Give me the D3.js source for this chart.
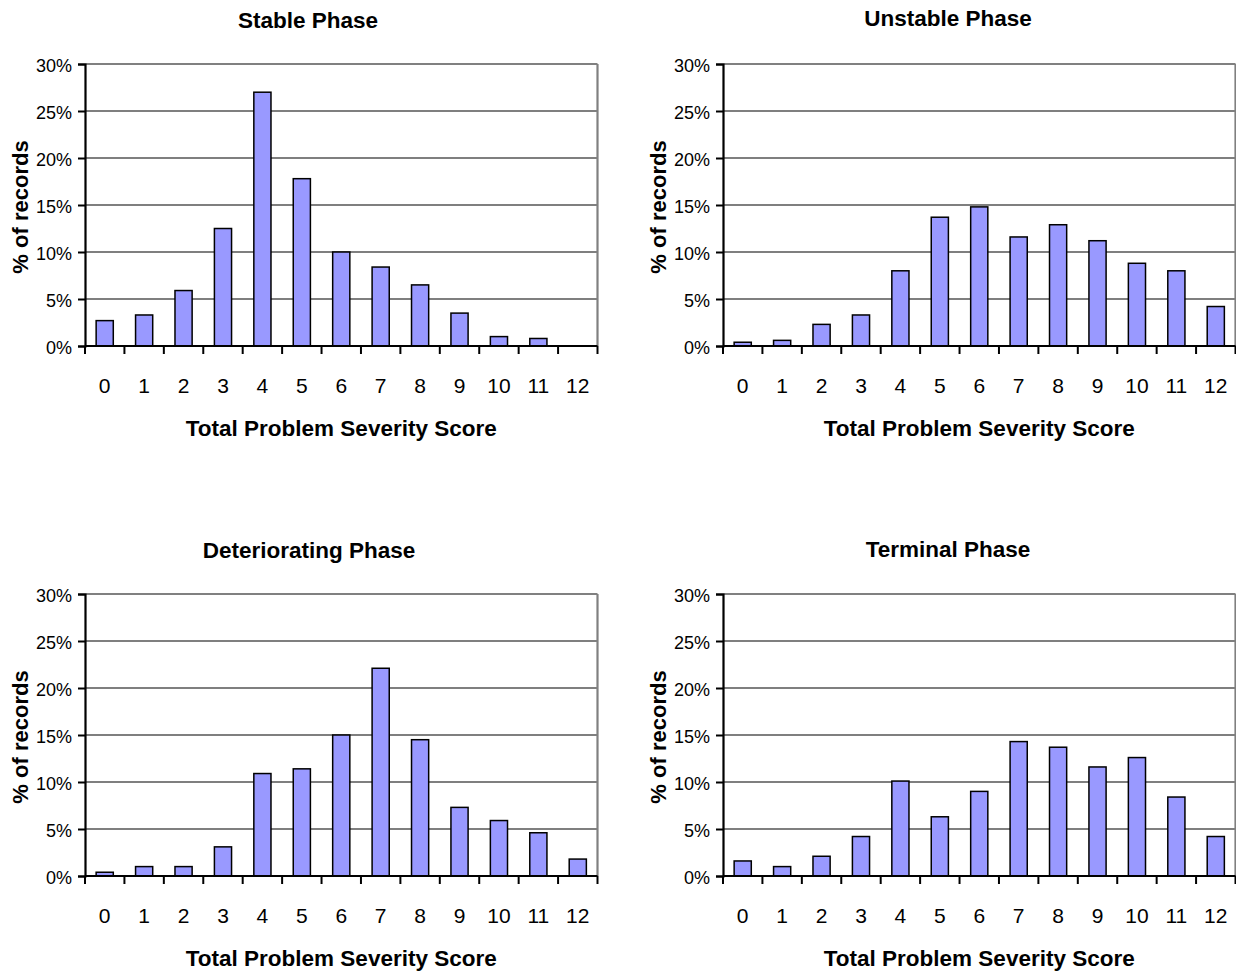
<!DOCTYPE html>
<html>
<head>
<meta charset="utf-8">
<script src="https://cdn.jsdelivr.net/npm/d3@7/dist/d3.min.js"></script>
<style>
  html, body { margin: 0; padding: 0; background: #ffffff; }
  svg { display: block; font-family: "Liberation Sans", Arial, Helvetica, sans-serif; }
</style>
</head>
<body>
<svg id="chart" width="1236" height="972"></svg>
<script>
// Severity score categories (x axis)
const scores = ["0", "1", "2", "3", "4", "5", "6", "7", "8", "9", "10", "11", "12"];

// Percent of records per score, one array per phase
const stableValues        = [2.7, 3.3, 5.9, 12.5, 27.0, 17.8, 10.0, 8.4, 6.5, 3.5, 1.0, 0.8, 0];
const unstableValues      = [0.4, 0.6, 2.3, 3.3, 8.0, 13.7, 14.8, 11.6, 12.9, 11.2, 8.8, 8.0, 4.2];
const deterioratingValues = [0.4, 1.0, 1.0, 3.1, 10.9, 11.4, 15.0, 22.1, 14.5, 7.3, 5.9, 4.6, 1.8];
const terminalValues      = [1.6, 1.0, 2.1, 4.2, 10.1, 6.3, 9.0, 14.3, 13.7, 11.6, 12.6, 8.4, 4.2];

// Panel titles and axis labels
const phaseTitles = ["Stable Phase", "Unstable Phase", "Deteriorating Phase", "Terminal Phase"];
const yTickValues = [0, 5, 10, 15, 20, 25, 30];
const xAxisTitle = "Total Problem Severity Score";
const yAxisTitle = "% of records";

const seriesList = [stableValues, unstableValues, deterioratingValues, terminalValues];

// Panel placement
const plotW = 512.5, plotH = 282;
const panels = [
  { left: 85,  top: 64,  titleX: 308, titleY: 28,  yLabelX: 20 },
  { left: 723, top: 64,  titleX: 948, titleY: 26,  yLabelX: 658 },
  { left: 85,  top: 594, titleX: 309, titleY: 558, yLabelX: 20 },
  { left: 723, top: 594, titleX: 948, titleY: 557, yLabelX: 658 }
];

const svg = d3.select("#chart");

panels.forEach((p, i) => {
  const values = seriesList[i];
  const g = svg.append("g").attr("transform", `translate(${p.left},${p.top})`);

  const x = d3.scaleBand().domain(scores).range([0, plotW]).paddingInner(0.565).paddingOuter(0.2825);
  const xCat = d3.scaleBand().domain(scores).range([0, plotW]);
  const y = d3.scaleLinear().domain([0, 30]).range([plotH, 0]);

  // Horizontal gridlines
  g.append("g")
    .selectAll("line")
    .data(yTickValues.filter(v => v > 0 && v < 30))
    .join("line")
    .attr("x1", 0).attr("x2", plotW)
    .attr("y1", d => y(d)).attr("y2", d => y(d))
    .attr("stroke", "#000").attr("stroke-width", 1.2);

  // Top and right frame
  g.append("line").attr("x1", 0).attr("x2", plotW).attr("y1", y(30)).attr("y2", y(30))
    .attr("stroke", "#808080").attr("stroke-width", 2.2);
  g.append("line").attr("x1", plotW).attr("x2", plotW).attr("y1", y(30)).attr("y2", plotH)
    .attr("stroke", "#808080").attr("stroke-width", 2.2);

  // Bars
  g.append("g")
    .selectAll("rect")
    .data(scores.map((s, k) => ({ s, v: values[k] })).filter(d => d.v > 0))
    .join("rect")
    .attr("x", d => x(d.s))
    .attr("width", x.bandwidth())
    .attr("y", d => y(d.v))
    .attr("height", d => plotH - y(d.v))
    .attr("fill", "#9999ff")
    .attr("stroke", "#000")
    .attr("stroke-width", 1.5);

  // Y axis
  const yAxis = g.append("g")
    .call(d3.axisLeft(y).tickValues(yTickValues).tickFormat(d => d + "%").tickSize(7).tickPadding(6));
  yAxis.select(".domain").attr("stroke", "#000").attr("stroke-width", 2.2);
  yAxis.selectAll(".tick line").attr("stroke", "#000").attr("stroke-width", 2);
  yAxis.selectAll(".tick text")
    .attr("font-size", 18).attr("fill", "#000")
    .attr("font-family", "'Liberation Sans', Arial, sans-serif")
    .attr("dy", "0.42em");

  // X axis: ticks fall between categories, labels centred in each category
  const bottom = g.append("g").attr("transform", `translate(0,${plotH})`);
  bottom.append("line").attr("x1", 0).attr("x2", plotW).attr("y1", 0).attr("y2", 0)
    .attr("stroke", "#000").attr("stroke-width", 2.2);
  const boundaries = d3.range(scores.length + 1).map(k => k * xCat.step());
  bottom.selectAll("line.tk")
    .data(boundaries)
    .join("line")
    .attr("class", "tk")
    .attr("x1", d => d).attr("x2", d => d)
    .attr("y1", 0).attr("y2", 8)
    .attr("stroke", "#000").attr("stroke-width", 2);
  bottom.selectAll("text")
    .data(scores)
    .join("text")
    .attr("x", d => xCat(d) + xCat.bandwidth() / 2)
    .attr("y", 47)
    .attr("text-anchor", "middle")
    .attr("font-size", 21)
    .attr("fill", "#000")
    .text(d => d);

  // X axis title
  g.append("text")
    .attr("x", plotW / 2).attr("y", plotH + 90)
    .attr("text-anchor", "middle")
    .attr("font-size", 22.5).attr("font-weight", "bold")
    .text(xAxisTitle);

  // Y axis title
  svg.append("text")
    .attr("transform", `translate(${p.yLabelX + 8},${p.top + plotH / 2 + 2}) rotate(-90)`)
    .attr("text-anchor", "middle")
    .attr("font-size", 22).attr("font-weight", "bold")
    .text(yAxisTitle);

  // Panel title
  svg.append("text")
    .attr("x", p.titleX).attr("y", p.titleY)
    .attr("text-anchor", "middle")
    .attr("font-size", 22.5).attr("font-weight", "bold")
    .text(phaseTitles[i]);
});
</script>
</body>
</html>
